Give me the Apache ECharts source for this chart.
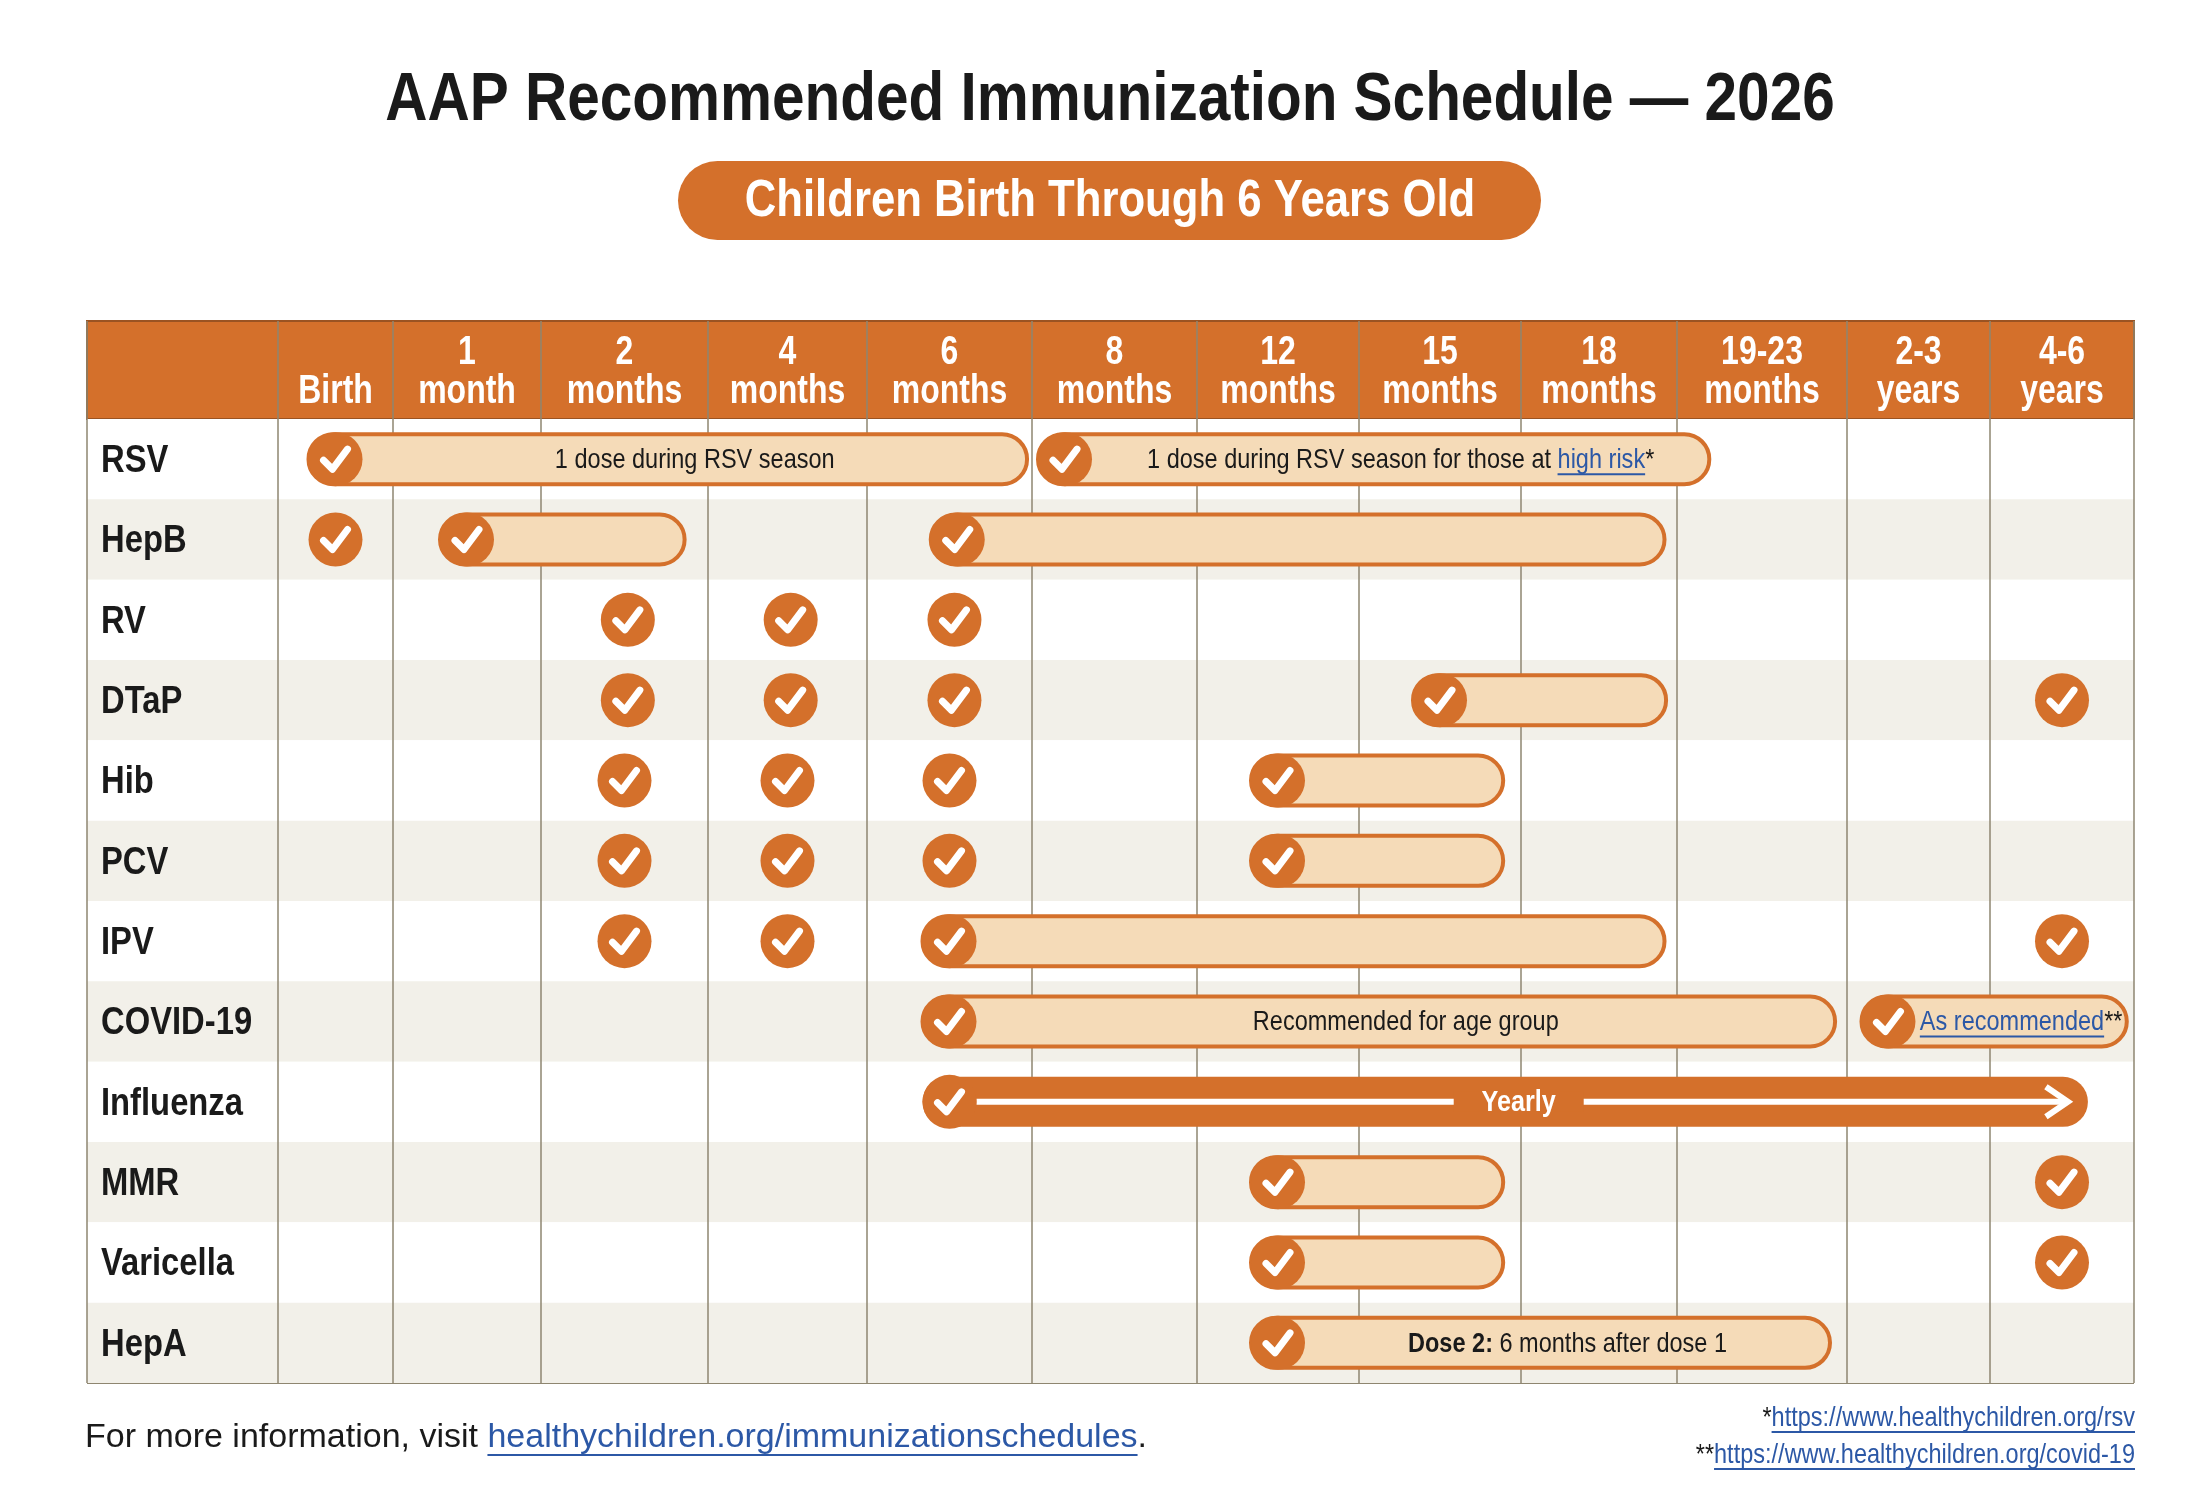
<!DOCTYPE html>
<html><head><meta charset="utf-8">
<script src="https://cdn.jsdelivr.net/npm/echarts@6/dist/echarts.min.js"></script>
<style>html,body{margin:0;padding:0;background:#fff}#c{width:2200px;height:1505px}</style>
</head><body><div id="c"></div>
<script>
// ---------- data ----------
var rows = ['RSV','HepB','RV','DTaP','Hib','PCV','IPV','COVID-19','Influenza','MMR','Varicella','HepA'];
var colTop = ['','1','2','4','6','8','12','15','18','19-23','2-3','4-6'];
var colBottom = ['Birth','month','months','months','months','months','months','months','months','months','years','years'];
// standalone doses (row index, column position in column units)
var checkRows = [1,2,2,2,3,3,3,3,4,4,4,5,5,5,6,6,6,9,10];
var checkCols = [0.5,2.52,3.52,4.53,2.52,3.52,4.53,11.5,2.5,3.5,4.5,2.5,3.5,4.5,2.5,3.5,11.5,11.5,11.5];
// ranges
var pillRows   = [0,0,1,1,3,4,5,6,7,7,9,10,11];
var pillStarts = [0.5,5.2,1.5,4.55,7.5,6.5,6.5,4.5,4.5,10.29,6.5,6.5,6.5];
var pillEnds   = [4.97,9.19,2.86,8.92,8.93,7.89,7.89,8.92,9.93,11.95,7.89,7.89,9.9];
var pillLabels = ['1 dose during RSV season','1 dose during RSV season for those at {l:high risk}*','','','','','','','Recommended for age group','{l:As recommended}**','','','{b:Dose 2:} 6 months after dose 1'];
var arrowRows = [8], arrowStarts = [4.5], arrowEnds = [11.68], arrowLabels = ['Yearly'];

// ---------- layout / style ----------
var edges = [87,278,393,541,708,867,1032,1197,1359,1521,1677,1847,1990,2134];
var TOP = 321, HEAD_B = 419, BOT = 1383;
var OR = '#D4702B', PILL = '#F5DBB8', LINE = '#8E8670', BLUE = '#2C58A6';
var SANS = '"Liberation Sans",Arial,sans-serif';
function u2px(u){var i=Math.min(11,Math.floor(u));return edges[1+i]+(u-i)*(edges[2+i]-edges[1+i]);}

var mctx = document.createElement('canvas').getContext('2d');
function measure(t,font){mctx.font=font;return mctx.measureText(t).width;}
function parseSegs(s){var out=[],re=/\{(l|b|B):([^}]*)\}/g,last=0,m;
  while((m=re.exec(s))){if(m.index>last)out.push({t:s.slice(last,m.index),k:'n'});out.push({t:m[2],k:m[1]});last=re.lastIndex;}
  if(last<s.length)out.push({t:s.slice(last),k:'n'});return out;}
// group of text segments, horizontally condensed by sx, anchored at x
function segEls(s,x,y,size,color,align,z,sx,bold){
  var segs=parseSegs(s),els=[],tot=0;
  segs.forEach(function(g){g.font=((g.k==='b'||bold)?'bold ':'')+size+'px '+SANS;g.w=measure(g.t,g.font);tot+=g.w;});
  var cx=align==='center'?-tot/2:align==='right'?-tot:0;
  segs.forEach(function(g){
    els.push({type:'text',z2:z||10,z:z||10,style:{x:cx,y:y,text:g.t,font:g.font,fill:g.k==='l'?BLUE:color,textAlign:'left',textVerticalAlign:'middle'}});
    if(g.k==='l')els.push({type:'line',z2:z||10,z:z||10,shape:{x1:cx,y1:y+size*0.5,x2:cx+g.w,y2:y+size*0.5},style:{stroke:BLUE,lineWidth:2}});
    cx+=g.w;});
  return [{type:'group',x:x,y:0,scaleX:sx||1,scaleY:1,z:z||10,children:els}];}
function checkEls(cx,cy,r){
  return [{type:'circle',shape:{cx:cx,cy:cy,r:r},style:{fill:OR},z2:6},
    {type:'polyline',shape:{points:[[cx-12,cy+1],[cx-3,cy+10],[cx+12,cy-10]]},style:{stroke:'#fff',lineWidth:7,lineCap:'round',lineJoin:'round',fill:null},z2:7}];}

var marks=[];
checkRows.forEach(function(r,i){marks.push([0,r,checkCols[i],checkCols[i],-1]);});
pillRows.forEach(function(r,i){marks.push([1,r,pillStarts[i],pillEnds[i],i]);});
arrowRows.forEach(function(r,i){marks.push([2,r,arrowStarts[i],arrowEnds[i],i]);});

function renderItem(params,api){
  var kind=api.value(0),row=api.value(1),s=u2px(api.value(2)),e=u2px(api.value(3)),li=api.value(4);
  var cy=api.coord([s,row])[1],R=27,H=50,ch=[];
  if(kind===0){ch=checkEls(s,cy,R);}
  else if(kind===1){
    ch.push({type:'rect',shape:{x:s-R,y:cy-H/2,width:e-s+R,height:H,r:H/2},style:{fill:PILL,stroke:OR,lineWidth:4},z2:5});
    ch=ch.concat(checkEls(s,cy,R));
    var lab=pillLabels[li];
    if(lab)ch=ch.concat(segEls(lab,(s+R+e)/2,cy+1,28,'#1a1a1a','center',8,0.84));
  } else {
    ch.push({type:'rect',shape:{x:s-R,y:cy-H/2,width:e-s+R,height:H,r:H/2},style:{fill:OR},z2:5});
    var ae=e-20;
    ch.push({type:'line',shape:{x1:s+R,y1:cy,x2:ae,y2:cy},style:{stroke:'#fff',lineWidth:6},z2:6});
    ch.push({type:'polyline',shape:{points:[[ae-22,cy-15],[ae,cy],[ae-22,cy+15]]},style:{stroke:'#fff',lineWidth:6,fill:null,lineJoin:'miter'},z2:6});
    var mid=(s+e)/2;
    ch.push({type:'rect',shape:{x:mid-65,y:cy-10,width:130,height:20},style:{fill:OR},z2:7});
    ch=ch.concat(segEls(arrowLabels[li],mid,cy+1,30,'#fff','center',8,0.84,true));
    ch=ch.concat(checkEls(s,cy,R));
  }
  return {type:'group',children:ch};
}

// graphic: title, header, row labels, footers
var g=[];
g=g.concat(segEls('AAP Recommended Immunization Schedule \u2014 2026',1110,101,68,'#1a1a1a','center',10,0.86,true));
g.push({type:'rect',shape:{x:678,y:161,width:863,height:79,r:39.5},style:{fill:OR}});
g=g.concat(segEls('Children Birth Through 6 Years Old',1110,202,52,'#fff','center',10,0.84,true));
g.push({type:'rect',shape:{x:edges[0],y:TOP,width:edges[13]-edges[0],height:HEAD_B-TOP},style:{fill:OR,stroke:'#9A5322',lineWidth:2}});
for(var i=0;i<12;i++){
  var cx=(edges[i+1]+edges[i+2])/2;
  if(colTop[i])g=g.concat(segEls(colTop[i],cx,353,40,'#fff','center',10,0.8,true));
  g=g.concat(segEls(colBottom[i],cx,392,40,'#fff','center',10,0.8,true));
}
var rowH=(BOT-HEAD_B)/rows.length;
rows.forEach(function(r,i){g=g.concat(segEls(r,101,HEAD_B+(i+0.5)*rowH+2,39,'#1a1a1a','left',10,0.84,true));});
edges.forEach(function(x){g.push({type:'line',shape:{x1:x,y1:TOP,x2:x,y2:BOT},style:{stroke:LINE,lineWidth:1.5},z:1});});
g.push({type:'line',shape:{x1:edges[0],y1:BOT,x2:edges[13],y2:BOT},style:{stroke:LINE,lineWidth:2}});
g=g.concat(segEls('For more information, visit {l:healthychildren.org/immunizationschedules}.',85,1438,34,'#1a1a1a','left',10,1));
g=g.concat(segEls('*{l:https://www.healthychildren.org/rsv}',2135,1418,28,'#1a1a1a','right',10,0.84));
g=g.concat(segEls('**{l:https://www.healthychildren.org/covid-19}',2135,1455,28,'#1a1a1a','right',10,0.84));

var chart=echarts.init(document.getElementById('c'),null,{renderer:'canvas'});
chart.setOption({
  animation:false,
  backgroundColor:'#fff',
  grid:{left:edges[0],right:2200-edges[13],top:HEAD_B,bottom:1505-BOT},
  xAxis:{type:'value',min:edges[0],max:edges[13],show:false},
  yAxis:{type:'category',data:rows,inverse:true,
    axisLine:{show:false},axisTick:{show:false},splitLine:{show:false},axisLabel:{show:false},
    splitArea:{show:true,areaStyle:{color:['#ffffff','#F2F0E9']}}},
  series:[{type:'custom',renderItem:renderItem,data:marks,clip:false,z:5,encode:{x:2,y:1}}],
  graphic:{elements:g}
});
</script></body></html>
